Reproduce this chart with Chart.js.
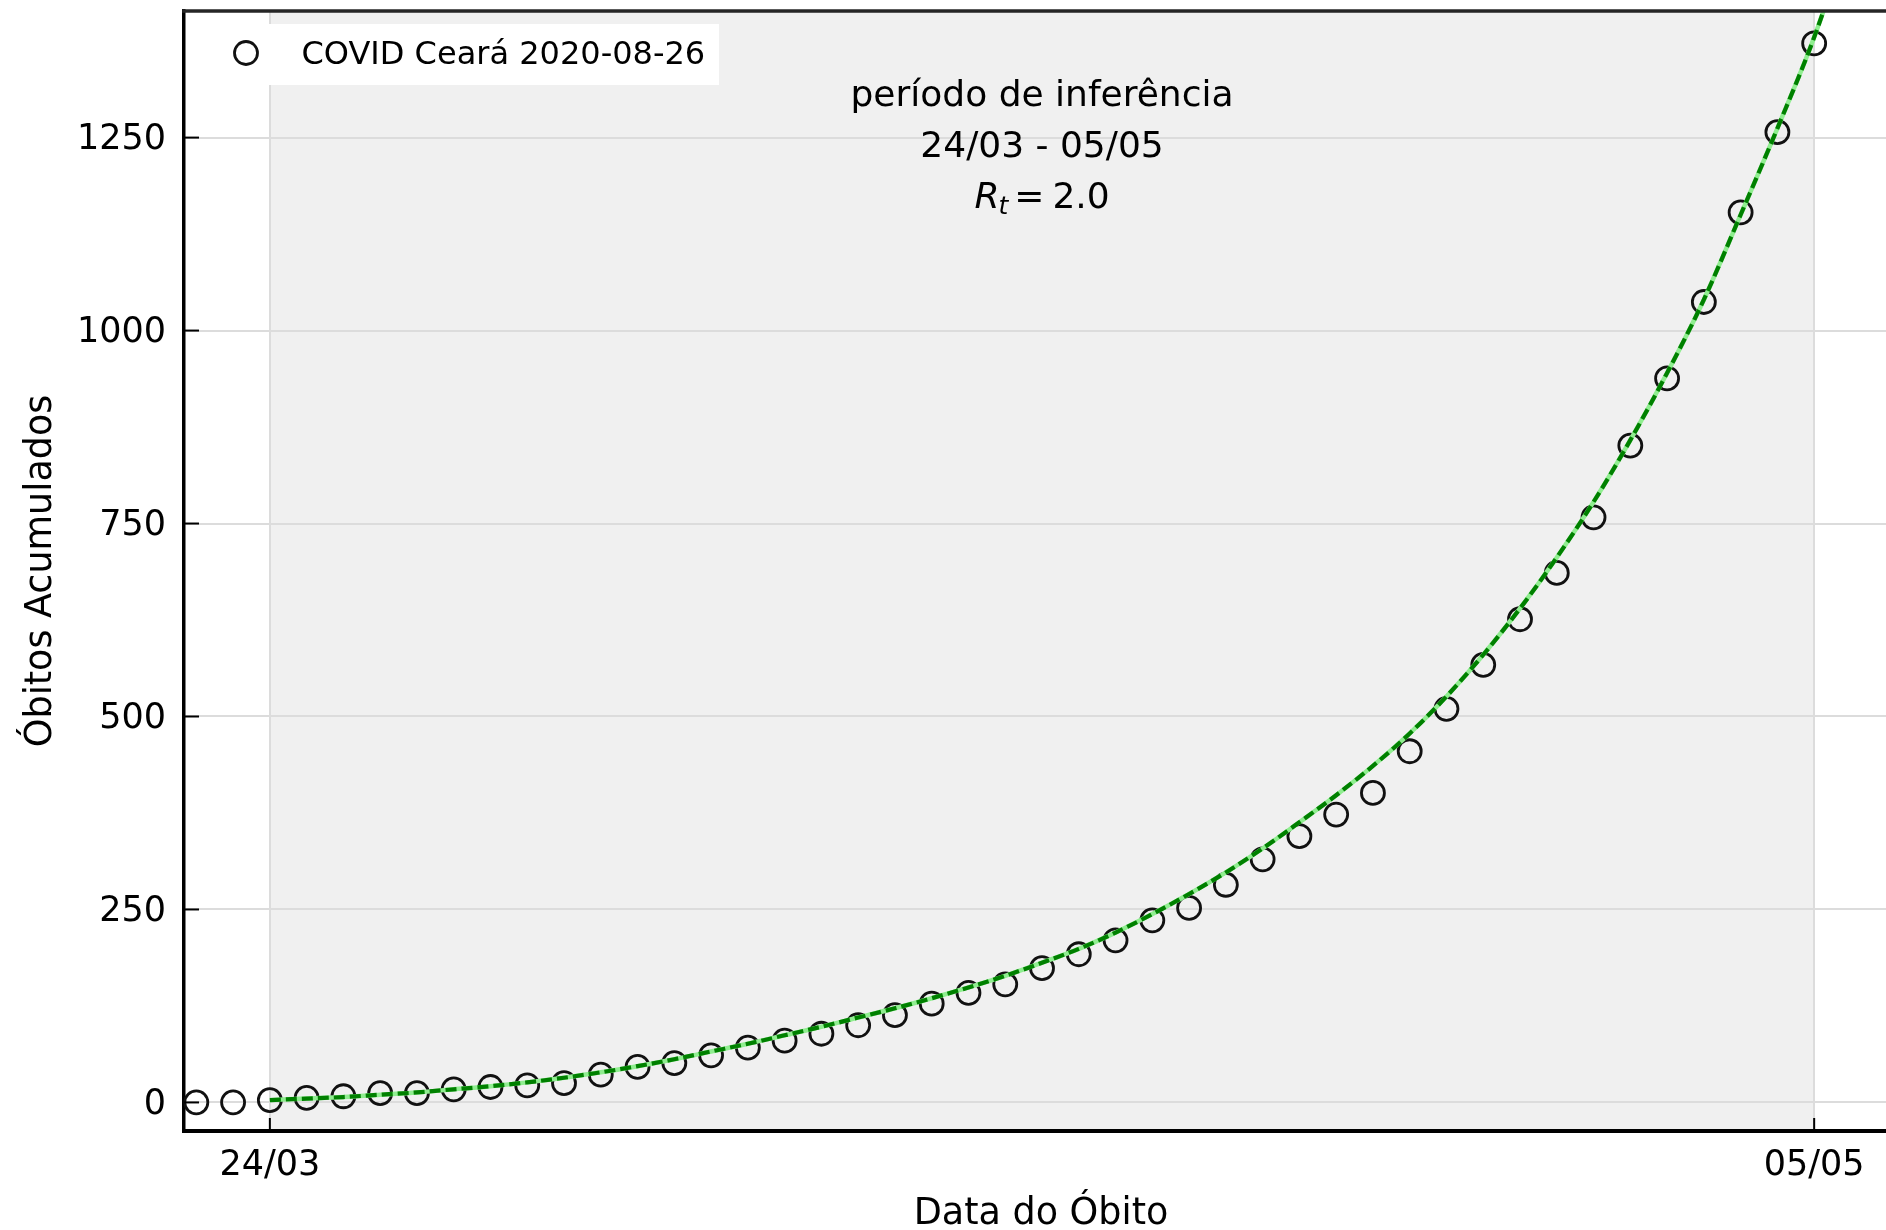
<!DOCTYPE html>
<html>
<head>
<meta charset="utf-8">
<script src="https://cdn.jsdelivr.net/npm/chart.js@4.4.1/dist/chart.umd.min.js"></script>
<style>
html,body{margin:0;padding:0;background:#fff;overflow:hidden;width:1886px;height:1230px}
canvas{display:block}
</style>
</head>
<body>
<canvas id="c" width="1898" height="1230"></canvas>
<script>
// ---------- data ----------
const dates = [
  '22/03','23/03','24/03','25/03','26/03','27/03','28/03','29/03','30/03','31/03',
  '01/04','02/04','03/04','04/04','05/04','06/04','07/04','08/04','09/04','10/04',
  '11/04','12/04','13/04','14/04','15/04','16/04','17/04','18/04','19/04','20/04',
  '21/04','22/04','23/04','24/04','25/04','26/04','27/04','28/04','29/04','30/04',
  '01/05','02/05','03/05','04/05','05/05','06/05'
];
const deaths = [
  0, 0, 3, 6, 8, 12, 12, 17, 20, 22,
  25, 36, 46, 51, 61, 71, 80, 89, 100, 113,
  128, 142, 153, 174, 192, 210, 236, 252, 282, 315,
  345, 373, 401, 455, 510, 567, 626, 686, 758, 851,
  938, 1037, 1153, 1257, 1372
];
const fitStartDate = '24/03';
const fitValues = [
  3, 5, 7, 10, 13, 17, 21, 26, 32, 39,
  47, 56, 66, 76, 87, 98, 110, 122, 135, 149,
  164, 181, 199, 220, 244, 270, 298, 329, 363, 398,
  436, 478, 526, 580, 640, 706, 778, 858, 945, 1040,
  1150, 1262, 1380, 1520
];
const seriesLabel = 'COVID Ceará 2020-08-26';
const yTickValues = [0, 250, 500, 750, 1000, 1250];
const xTickLabels = ['24/03', '05/05'];
const periodStart = '24/03';
const periodEnd = '05/05';
const annotationLines = ['período de inferência', '24/03 - 05/05'];
const rtValue = '2.0';
const yTitle = 'Óbitos Acumulados';
const xTitle = 'Data do Óbito';

// ---------- chart ----------
const FONT = "'DejaVu Sans', sans-serif";
Chart.defaults.font.family = FONT;
Chart.defaults.color = '#000';

const fitOffset = dates.indexOf(fitStartDate);
const pointData = deaths.map((v, i) => ({x: i, y: v}));
const fitData = fitValues.map((v, i) => ({x: i + fitOffset, y: v}));

const shadePlugin = {
  id: 'shade',
  beforeDraw(chart) {
    const {ctx, chartArea: a, scales: {x}} = chart;
    ctx.save();
    ctx.fillStyle = '#ffffff';
    ctx.fillRect(0, 0, chart.width, chart.height);
    const x0 = x.getPixelForValue(dates.indexOf(periodStart));
    const x1 = x.getPixelForValue(dates.indexOf(periodEnd));
    ctx.fillStyle = '#f0f0f0';
    ctx.fillRect(x0, a.top, x1 - x0, a.bottom - a.top);
    ctx.restore();
  }
};

const annotationPlugin = {
  id: 'annot',
  afterDatasetsDraw(chart) {
    const {ctx, chartArea: a, scales: {x}} = chart;
    const cx = x.getPixelForValue((dates.indexOf(periodStart) + dates.indexOf(periodEnd)) / 2);
    ctx.save();
    ctx.fillStyle = '#000';
    ctx.textBaseline = 'alphabetic';
    ctx.textAlign = 'center';
    ctx.font = '36px ' + FONT;
    ctx.fillText(annotationLines[0], cx, a.top + 94.5);
    ctx.fillText(annotationLines[1], cx, a.top + 145.7);
    // R_t = 2.0
    const base = a.top + 197.3;
    ctx.textAlign = 'left';
    ctx.font = 'italic 36px ' + FONT;
    const wR = ctx.measureText('R').width;
    ctx.font = 'italic 25px ' + FONT;
    const wt = ctx.measureText('t').width;
    ctx.font = '36px ' + FONT;
    const wEq = ctx.measureText('=').width;
    const wNum = ctx.measureText(rtValue).width;
    const gap1 = 5, gap2 = 8;
    const total = wR + wt + gap1 + wEq + gap2 + wNum;
    let px = cx - total / 2;
    ctx.font = 'italic 36px ' + FONT;
    ctx.fillText('R', px, base);
    px += wR;
    ctx.font = 'italic 25px ' + FONT;
    ctx.fillText('t', px - 1, base + 6);
    px += wt + gap1;
    ctx.font = '36px ' + FONT;
    ctx.fillText('=', px, base);
    px += wEq + gap2;
    ctx.fillText(rtValue, px, base);
    ctx.restore();
  }
};

const framePlugin = {
  id: 'frame',
  afterDraw(chart) {
    const {ctx, chartArea: a, scales: {x, y}} = chart;
    ctx.save();
    // inward ticks
    ctx.strokeStyle = '#000';
    ctx.lineWidth = 2;
    y.ticks.forEach(t => {
      const py = y.getPixelForValue(t.value);
      ctx.beginPath(); ctx.moveTo(a.left, py); ctx.lineTo(a.left + 15, py); ctx.stroke();
    });
    x.ticks.forEach(t => {
      const px = x.getPixelForValue(t.value);
      ctx.beginPath(); ctx.moveTo(px, a.bottom); ctx.lineTo(px, a.bottom - 13); ctx.stroke();
    });
    // top spine
    ctx.strokeStyle = '#262626';
    ctx.lineWidth = 3.5;
    ctx.beginPath(); ctx.moveTo(a.left - 1.75, a.top); ctx.lineTo(a.right, a.top); ctx.stroke();
    // legend box
    const ds = chart.data.datasets[0];
    ctx.fillStyle = '#ffffff';
    ctx.fillRect(a.left + 12, a.top + 13, 523, 61);
    ctx.beginPath();
    ctx.arc(a.left + 62, a.top + 42, ds.pointRadius, 0, Math.PI * 2);
    ctx.lineWidth = ds.pointBorderWidth;
    ctx.strokeStyle = ds.pointBorderColor;
    ctx.stroke();
    ctx.fillStyle = '#000';
    ctx.font = '32px ' + FONT;
    ctx.textBaseline = 'alphabetic';
    ctx.textAlign = 'left';
    ctx.fillText(ds.label, a.left + 117.5, a.top + 52.5);
    ctx.restore();
  }
};

function zeroPad(s) { s.paddingTop = 0; s.paddingBottom = 0; s.paddingLeft = 0; s.paddingRight = 0; }

new Chart(document.getElementById('c'), {
  type: 'scatter',
  data: {
    datasets: [
      {
        label: seriesLabel,
        data: pointData,
        showLine: false,
        pointRadius: 11.5,
        pointBorderWidth: 2.8,
        pointBorderColor: '#111111',
        pointBackgroundColor: 'rgba(0,0,0,0)',
        clip: false,
        order: 3
      },
      {
        label: 'ajuste',
        data: fitData,
        showLine: true,
        borderColor: '#90ee90',
        borderWidth: 4.5,
        pointRadius: 0,
        cubicInterpolationMode: 'monotone',
        order: 2
      },
      {
        label: 'ajuste tracejado',
        data: fitData,
        showLine: true,
        borderColor: '#008000',
        borderWidth: 4.2,
        borderDash: [11, 5],
        pointRadius: 0,
        cubicInterpolationMode: 'monotone',
        order: 1
      }
    ]
  },
  options: {
    responsive: false,
    animation: false,
    events: [],
    layout: {autoPadding: false, padding: {top: 11, left: 0, right: 0, bottom: 0}},
    plugins: {legend: {display: false}, tooltip: {enabled: false}},
    scales: {
      x: {
        type: 'linear',
        bounds: 'data',
        min: -0.335,
        max: 46.28,
        afterBuildTicks: s => { s.ticks = xTickLabels.map(l => ({value: dates.indexOf(l)})); },
        afterFit: s => { s.height = 99; zeroPad(s); },
        ticks: {
          callback: v => dates[v],
          font: {size: 35},
          color: '#000',
          padding: 14,
          maxRotation: 0,
          autoSkip: false
        },
        grid: {color: '#dcdcdc', lineWidth: 2, drawTicks: false},
        border: {display: true, color: '#000', width: 4},
        title: {display: true, text: xTitle, font: {size: 36.5}, color: '#000', padding: {top: 0, bottom: -6}}
      },
      y: {
        type: 'linear',
        bounds: 'data',
        min: -37,
        max: 1414,
        afterBuildTicks: s => { s.ticks = yTickValues.map(v => ({value: v})); },
        afterFit: s => { s.width = 184; zeroPad(s); },
        ticks: {font: {size: 35}, color: '#000', padding: 18, labelOffset: 2.5, callback: v => String(v)},
        grid: {color: '#dcdcdc', lineWidth: 2, drawTicks: false},
        border: {display: true, color: '#000', width: 3.5},
        title: {display: true, text: yTitle, font: {size: 36.5}, color: '#000', padding: {top: 19.5, bottom: 0}}
      }
    }
  },
  plugins: [shadePlugin, annotationPlugin, framePlugin]
});
</script>
</body>
</html>
